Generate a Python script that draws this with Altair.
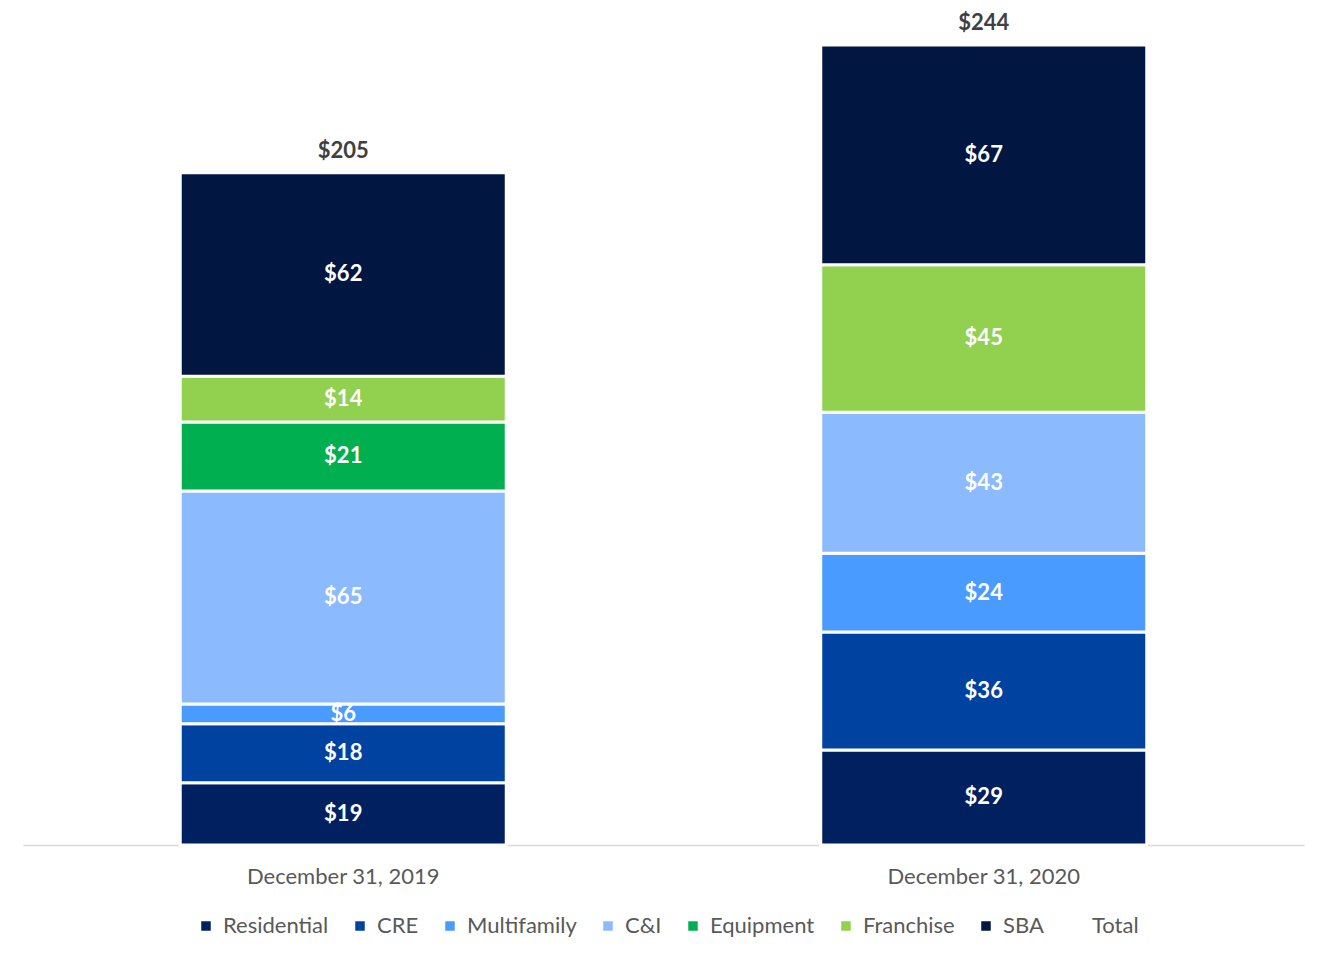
import altair as alt
import pandas as pd

categories = ["December 31, 2019", "December 31, 2020"]
series = ["Residential", "CRE", "Multifamily", "C&I", "Equipment", "Franchise", "SBA"]
values_2019 = [19, 18, 6, 65, 21, 14, 62]
values_2020 = [29, 36, 24, 43, 0, 45, 67]
colors = ["#00205F", "#0042A0", "#4A9BFF", "#8BBAFF", "#00B050", "#92D050", "#011640"]

rows = []
for cat, vals in zip(categories, [values_2019, values_2020]):
    for i, (s, v) in enumerate(zip(series, vals)):
        rows.append({"date": cat, "series": s, "order": i, "value": v})
df = pd.DataFrame(rows)

legend_domain = series + ["Total"]
legend_range = colors + ["rgba(0,0,0,0)"]

FONT = "Lato"
H = 802
D = 244.6

xenc = alt.X(
    "date:N",
    sort=categories,
    scale=alt.Scale(paddingInner=0.491, paddingOuter=0.2455),
    axis=alt.Axis(
        title=None, labelAngle=0, ticks=False, domainColor="#d9d9d9", domainWidth=1.5,
        labelFontSize=22, labelColor="#595959", labelFont=FONT, labelPadding=21,
        labelLimit=0,
    ),
)

base = alt.Chart(df).transform_filter("datum.value > 0").transform_stack(
    stack="value", as_=["y0", "y1"], groupby=["date"],
    sort=[alt.SortField("order", order="ascending")],
)

bars = base.mark_bar(stroke="white", strokeWidth=3).encode(
    x=xenc,
    y=alt.Y("y0:Q", scale=alt.Scale(domain=[0, D], nice=False, zero=True), axis=None),
    y2="y1:Q",
    color=alt.Color(
        "series:N",
        scale=alt.Scale(domain=legend_domain, range=legend_range),
        legend=alt.Legend(
            title=None, orient="none", legendX=172, legendY=872, direction="horizontal",
            columns=8, symbolType="square", symbolSize=90, symbolStrokeWidth=0,
            labelFontSize=22, labelColor="#595959", labelFont=FONT,
            labelOffset=6, columnPadding=20,
        ),
    ),
)

labels = base.transform_calculate(
    mid="(datum.y0 + datum.y1) / 2", label="'$' + datum.value"
).mark_text(color="white", fontWeight="bold", fontSize=22, font=FONT, baseline="middle").encode(
    x=alt.X("date:N", sort=categories),
    y="mid:Q",
    text="label:N",
)

totals = alt.Chart(df).transform_aggregate(
    total="sum(value)", groupby=["date"]
).transform_calculate(label="'$' + datum.total").mark_text(
    color="#404040", fontWeight="bold", fontSize=22, font=FONT, baseline="middle", dy=-22
).encode(
    x=alt.X("date:N", sort=categories),
    y="total:Q",
    text="label:N",
)

chart = alt.layer(bars, labels, totals).properties(
    width=1281, height=H,
    autosize=alt.AutoSizeParams(type="none"),
    padding={"left": 15, "top": 35, "right": 15, "bottom": 110},
).configure_view(stroke=None)

chart.save("out.html", embed_options={"renderer": "svg", "actions": False})
